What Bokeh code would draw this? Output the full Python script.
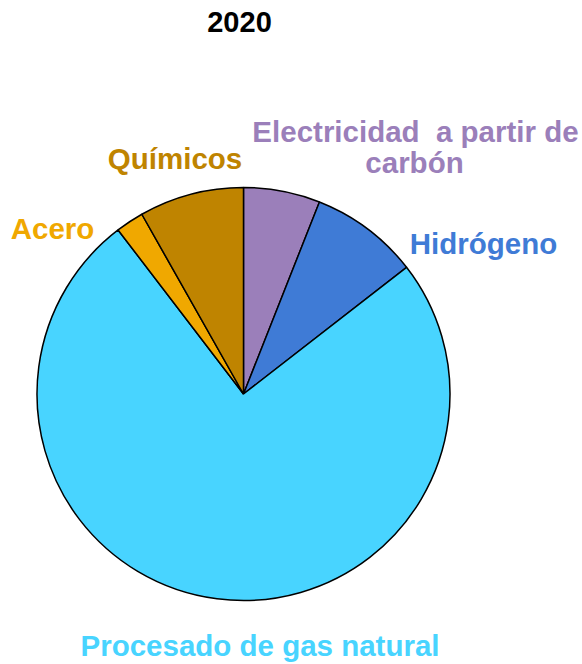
import math
from bokeh.plotting import figure
from bokeh.models import Range1d, ColumnDataSource
from bokeh.core.properties import value
from bokeh.embed import file_html
from bokeh.resources import INLINE

# Data (shares of total), clockwise from top
categories = ["Electricidad  a partir de carbón", "Hidrógeno", "Procesado de gas natural", "Acero", "Químicos"]
shares = [6.0, 8.5, 75.2, 2.2, 8.2]
colors = ["#9B7FBA", "#3F7BD6", "#48D4FF", "#F0A800", "#BF8400"]
title_text = "2020"

W, H = 582, 664
p = figure(width=W, height=H, output_backend="svg", toolbar_location=None,
           x_range=Range1d(0, W), y_range=Range1d(0, H), min_border=0)
p.axis.visible = False
p.grid.visible = False
p.outline_line_color = None
p.background_fill_color = "white"

def px(x):
    return x

def py(y):
    return H - y

cx, cy, r = px(243), py(393.5), 206.5
total = sum(shares)
starts, ends = [], []
cum = 0.0
for s in shares:
    starts.append(math.pi / 2 - cum / total * 2 * math.pi)
    cum += s
    ends.append(math.pi / 2 - cum / total * 2 * math.pi)

src = ColumnDataSource(dict(start=starts, end=ends, color=colors, cat=categories))
p.wedge(x=cx, y=cy, radius=r, start_angle="start", end_angle="end", direction="clock",
        fill_color="color", line_color="black", line_width=1.5, source=src)

font = value("Liberation Sans")
labels = [
    ("Químicos", 174.5, 158, colors[4]),
    ("Electricidad\u00a0 a partir de", 415, 131, colors[0]),
    ("carbón", 414, 162, colors[0]),
    ("Hidrógeno", 483, 243, colors[1]),
    ("Acero", 52, 228, colors[3]),
    ("Procesado de gas natural", 259.5, 645, colors[2]),
]
lsrc = ColumnDataSource(dict(
    x=[px(l[1]) for l in labels], y=[py(l[2]) for l in labels],
    t=[l[0] for l in labels], c=[l[3] for l in labels]))
p.text(x="x", y="y", text="t", text_color="c", source=lsrc,
       text_font=font, text_font_style="bold", text_font_size="29.5px",
       text_align="center", text_baseline="middle")
p.text(x=[px(239)], y=[py(21)], text=[title_text], text_color="black",
       text_font=font, text_font_style="bold", text_font_size="29px",
       text_align="center", text_baseline="middle")

open("out.html", "w").write(file_html(p, INLINE))
